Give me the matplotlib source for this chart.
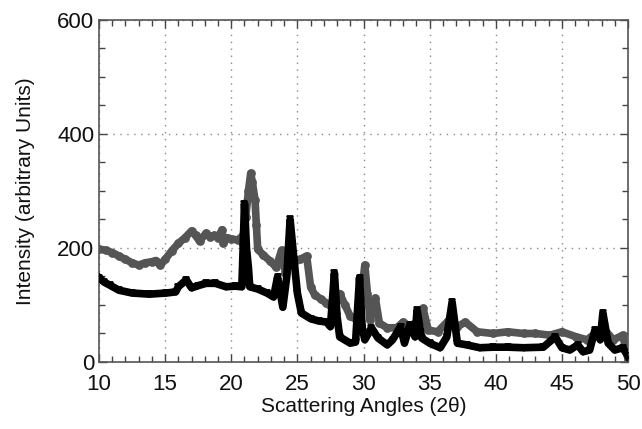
import matplotlib
matplotlib.use("Agg")
import matplotlib.pyplot as plt
from matplotlib.ticker import MultipleLocator

plt.rcParams['font.family'] = ['Liberation Sans', 'DejaVu Sans']

gray_x = [10.0, 10.5, 11.0, 11.5, 12.0, 12.5, 13.0, 13.5, 14.0, 14.3, 14.6, 15.0, 15.5,
          16.0, 16.5, 17.0, 17.3, 17.6, 18.1, 18.4, 18.7, 19.0, 19.3, 19.4, 19.7, 20.0,
          20.5, 20.9, 21.1, 21.3, 21.47, 21.6, 21.8, 21.9, 22.0, 22.4, 22.9, 23.4, 23.8,
          24.1, 24.4, 24.8, 25.2, 25.7, 26.0, 26.3, 26.8, 27.2, 27.6, 28.2, 28.6, 29.0,
          29.5, 29.8, 30.1, 30.3, 30.5, 30.9, 31.2, 31.8, 32.5, 33.0, 33.5, 34.0, 34.5,
          34.9, 35.6, 36.4, 37.1, 37.7, 38.6, 39.8, 40.9, 42.1, 43.0, 44.1, 45.0, 46.1,
          46.9, 47.7, 48.1, 48.9, 49.6, 50.0]
gray_y = [198, 196, 192, 186, 180, 174, 170, 174, 176, 178, 170, 180, 195,
          208, 218, 230, 222, 212, 226, 220, 222, 218, 232, 208, 218, 216,
          214, 222, 255, 300, 331, 315, 284, 240, 198, 188, 178, 166, 196,
          156, 172, 178, 180, 186, 132, 118, 110, 103, 96, 120, 100, 80,
          74, 110, 170, 120, 74, 112, 68, 60, 60, 70, 62, 70, 94,
          56, 53, 72, 62, 70, 53, 50, 53, 50, 50, 47, 53, 44,
          39, 53, 60, 39, 47, 5]

black_x = [10.0, 10.4, 10.8, 11.5, 12.5, 13.8, 15.1, 15.8, 16.0, 16.6, 17.0, 17.5, 18.1,
           18.8, 19.6, 20.3, 20.8, 20.9, 21.0, 21.15, 21.3, 21.4, 22.0, 22.7, 23.2, 23.5,
           23.9, 24.2, 24.45, 24.7, 25.0, 25.3, 26.0, 26.6, 27.2, 27.5, 27.8, 28.0, 28.2,
           29.0, 29.4, 29.7, 29.9, 30.1, 30.6, 31.1, 31.8, 32.2, 32.8, 33.1, 33.5, 33.9,
           34.05, 34.4, 35.0, 35.8, 36.3, 36.7, 37.1, 37.8, 38.8, 39.8, 40.9, 42.1, 43.6,
           44.5, 45.0, 45.6, 46.2, 46.6, 47.1, 47.5, 47.9, 48.1, 48.5, 49.0, 49.6, 50.0]
black_y = [148, 140, 135, 126, 121, 119, 121, 123, 132, 144, 130, 134, 138,
           138, 132, 133, 132, 200, 278, 200, 165, 132, 128, 121, 114, 149,
           96, 150, 250, 190, 121, 86, 76, 72, 70, 62, 156, 80, 44,
           33, 35, 148, 60, 39, 60, 42, 30, 39, 62, 33, 65, 44,
           91, 42, 33, 25, 44, 105, 33, 30, 25, 26, 26, 25, 26,
           44, 25, 21, 30, 18, 21, 56, 39, 86, 33, 21, 25, 10]

x_ticks = [10, 15, 20, 25, 30, 35, 40, 45, 50]
y_ticks = [0, 200, 400, 600]

fig = plt.figure(figsize=(6.42, 4.29), dpi=100)
ax = fig.add_axes([0.1542, 0.1562, 0.824, 0.7972])

ax.plot(gray_x, gray_y, color='#555555', lw=5.5, marker='o', ms=5,
        mfc='none', mec='#555555', mew=1.3, solid_joinstyle='round', zorder=2)
ax.plot(black_x, black_y, color='black', lw=5.5, marker='v', ms=5,
        mfc='none', mec='black', mew=1.3, solid_joinstyle='round', zorder=3)

ax.set_xlim(10, 50)
ax.set_ylim(0, 600)
ax.set_xticks(x_ticks)
ax.set_yticks(y_ticks)
ax.xaxis.set_minor_locator(MultipleLocator(1))
ax.yaxis.set_minor_locator(MultipleLocator(50))
ax.tick_params(which='both', direction='in', top=True, right=True,
               colors='#444444', labelcolor='#111111', labelsize=16)
ax.tick_params(which='major', length=6, width=1)
ax.tick_params(which='minor', length=4, width=1)
ax.tick_params(axis='x', pad=9)
for s in ax.spines.values():
    s.set_color('#555555')
    s.set_linewidth(1.2)
ax.grid(True, which='major', linestyle=(0, (1, 4)), color='#888888', lw=1)
ax.set_axisbelow(True)

ax.set_xlabel('Scattering Angles (2θ)', fontsize=15, color='#111111', labelpad=1)
ax.set_ylabel('Intensity (arbitrary Units)', fontsize=15, color='#111111', labelpad=16)

fig.savefig('out.png', dpi=100)
